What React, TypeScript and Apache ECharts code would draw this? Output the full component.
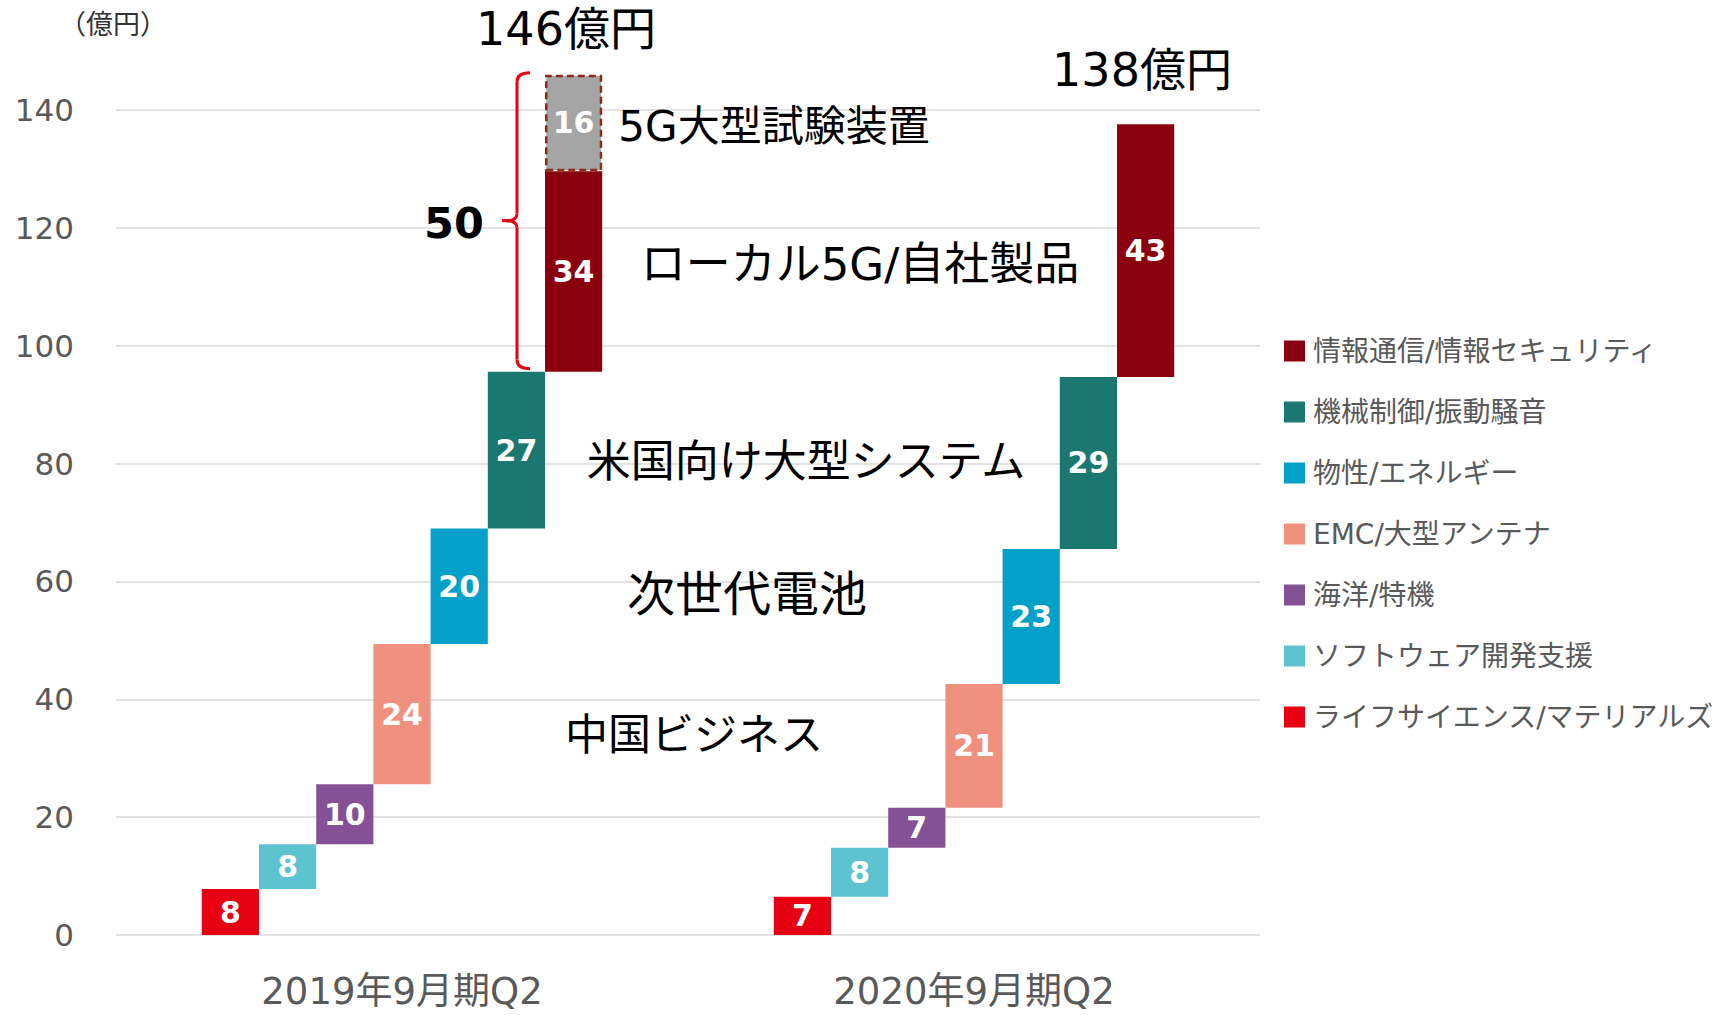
import React, { useEffect, useRef } from "react";
import * as echarts from "echarts";

// ---- data ----
const categories = ["2019年9月期Q2", "2020年9月期Q2"];
const segmentNames = [
  "ライフサイエンス/マテリアルズ",
  "ソフトウェア開発支援",
  "海洋/特機",
  "EMC/大型アンテナ",
  "物性/エネルギー",
  "機械制御/振動騒音",
  "情報通信/情報セキュリティ",
];
const segmentColors = ["#E60012", "#5EC3D0", "#845196", "#F0907F", "#03A0C9", "#1A7870", "#8A000E"];
const values2019 = [7.8, 7.6, 10.2, 23.8, 19.6, 26.6, 34.0];
const values2020 = [6.5, 8.3, 6.8, 21.0, 22.9, 29.2, 42.9];
const extraName = "5G大型試験装置";
const extraValues = [16.4, null];
const yMin = 0;
const yMax = 140;
const yInterval = 20;
const unitLabel = "（億円）";
const noteLabels = ["ローカル5G/自社製品", "米国向け大型システム", "次世代電池", "中国ビジネス"];

const FONT = '"DejaVu Sans", "Noto Sans CJK JP", sans-serif';
const GRAY = "#595959";

function bases(vals: number[]) {
  let s = 0;
  return vals.map((v) => {
    const b = s;
    s += v;
    return b;
  });
}
const sum = (a: number[]) => a.reduce((x, y) => x + y, 0);

export default function App() {
  const ref = useRef<HTMLDivElement>(null);
  useEffect(() => {
    const chart = echarts.init(ref.current!, null, { renderer: "svg" });
    const b19 = bases(values2019);
    const b20 = bases(values2020);
    const labelStyle = {
      show: true,
      position: "inside",
      color: "#ffffff",
      fontFamily: '"DejaVu Sans", sans-serif',
      fontWeight: "bold",
      fontSize: 30,
      formatter: (p: any) => String(Math.round(p.value)),
    };
    const series: any[] = [];
    segmentNames.forEach((name, i) => {
      series.push({
        name: "_base" + i,
        type: "bar",
        stack: "s" + i,
        data: [b19[i], b20[i]],
        itemStyle: { color: "rgba(0,0,0,0)" },
        silent: true,
        clip: false,
        barGap: "0%",
        barCategoryGap: "30%",
        emphasis: { disabled: true },
      });
      series.push({
        name,
        type: "bar",
        stack: "s" + i,
        data: [values2019[i], values2020[i]],
        itemStyle: { color: segmentColors[i] },
        label: labelStyle,
        clip: false,
        barGap: "0%",
        barCategoryGap: "30%",
        emphasis: { disabled: true },
      });
    });
    series.push({
      name: extraName,
      type: "bar",
      stack: "s" + (segmentNames.length - 1),
      data: extraValues.map((v) => (v == null ? "-" : v)),
      itemStyle: { color: "#A5A5A5", borderColor: "#8E2B14", borderWidth: 2.5, borderType: [7, 4] },
      label: labelStyle,
      clip: false,
      barGap: "0%",
      barCategoryGap: "30%",
      emphasis: { disabled: true },
    });

    chart.setOption({
      animation: false,
      grid: { left: 116, right: 471, top: 110, bottom: 80, containLabel: false },
      legend: {
        orient: "vertical",
        left: 1284,
        top: 335,
        padding: 0,
        itemWidth: 21,
        itemHeight: 21,
        itemGap: 29,
        icon: "rect",
        selectedMode: false,
        data: [...segmentNames].reverse(),
        textStyle: { fontSize: 28, lineHeight: 32, color: GRAY, fontFamily: FONT, padding: [0, 0, 0, 3] },
      },
      xAxis: {
        type: "category",
        data: categories,
        axisLine: { show: false },
        axisTick: { show: false },
        axisLabel: { color: GRAY, fontSize: 37, fontFamily: FONT, margin: 38 },
      },
      yAxis: {
        type: "value",
        min: yMin,
        max: yMax,
        interval: yInterval,
        axisLine: { show: false },
        axisTick: { show: false },
        axisLabel: { color: GRAY, fontSize: 31, fontFamily: FONT, margin: 42 },
        splitLine: { lineStyle: { color: "#D9D9D9", width: 1.5 } },
      },
      series,
    });

    const px = (ci: number, v: number) => chart.convertToPixel({ gridIndex: 0 }, [ci, v]) as number[];
    const xc0 = px(0, 0)[0];
    const last = segmentNames.length - 1;
    const total19 = sum(values2019) + (extraValues[0] || 0);
    const total20 = sum(values2020) + (extraValues[1] || 0);
    const braceVal = values2019[last] + (extraValues[0] || 0);
    const yTop = px(0, total19)[1] - 2;
    const yBot = px(0, b19[last])[1] - 3;
    const yMid = (yTop + yBot) / 2;
    const xv = xc0 + 115;
    const red = { stroke: "#E60012", lineWidth: 3, fill: "none" };
    const big = (text: string, x: number, y: number, size: number, extra: any = {}) => ({
      type: "text",
      x,
      y,
      style: {
        text,
        fill: "#000000",
        fontSize: size,
        fontFamily: FONT,
        align: "center",
        verticalAlign: "middle",
        ...extra,
      },
    });

    chart.setOption({
      graphic: [
        {
          type: "text",
          x: 113,
          y: 24,
          style: { text: unitLabel, fill: "#333333", fontSize: 27, fontFamily: FONT, align: "center", verticalAlign: "middle" },
        },
        big(Math.round(total19) + "億円", 566, 29, 46),
        big(Math.round(total20) + "億円", 1142, 70, 46),
        big(extraName, 774, 126, 42),
        big(noteLabels[0], 860, 264, 45),
        big(noteLabels[1], 806, 461, 44),
        big(noteLabels[2], 747, 594, 48),
        big(noteLabels[3], 694, 735, 43),
        big(String(Math.round(braceVal)), xc0 + 52, yMid + 2, 43, { fontWeight: "bold", fontFamily: '"DejaVu Sans", sans-serif' }),
        { type: "bezierCurve", shape: { x1: xv + 13, y1: yTop, cpx1: xv, cpy1: yTop, x2: xv, y2: yTop + 9 }, style: red },
        { type: "line", shape: { x1: xv, y1: yTop + 9, x2: xv, y2: yMid - 7 }, style: red },
        { type: "bezierCurve", shape: { x1: xv, y1: yMid - 7, cpx1: xv, cpy1: yMid, x2: xv - 11, y2: yMid }, style: red },
        { type: "line", shape: { x1: xv - 11, y1: yMid, x2: xv - 15, y2: yMid }, style: red },
        { type: "bezierCurve", shape: { x1: xv - 11, y1: yMid, cpx1: xv, cpy1: yMid, x2: xv, y2: yMid + 7 }, style: red },
        { type: "line", shape: { x1: xv, y1: yMid + 7, x2: xv, y2: yBot - 9 }, style: red },
        { type: "bezierCurve", shape: { x1: xv, y1: yBot - 9, cpx1: xv, cpy1: yBot, x2: xv + 13, y2: yBot }, style: red },
      ],
    });
    return () => chart.dispose();
  }, []);

  return (
    <>
      <style>{`html,body{margin:0;padding:0;overflow:hidden;background:#fff}`}</style>
      <div ref={ref} style={{ position: "absolute", left: 0, top: 0, width: 1731, height: 1015 }} />
    </>
  );
}
